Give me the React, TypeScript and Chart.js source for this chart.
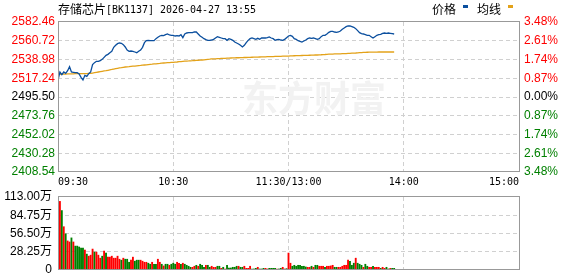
import React, { useEffect, useRef } from 'react';
import { Chart, registerables } from 'chart.js';
Chart.register(...registerables);

const titleText = '存储芯片[BK1137] 2026-04-27 13:55';
const legendNames = ['价格', '均线'];
const timeLabels = ['09:30', '10:30', '11:30/13:00', '14:00', '15:00'];
const timeTickMinutes = [0, 60, 120, 180, 240];
const prevClose = 2495.5;
const priceTicks = [2582.46, 2560.72, 2538.98, 2517.24, 2495.5, 2473.76, 2452.02, 2430.28, 2408.54];
const pctLabels = ['3.48%', '2.61%', '1.74%', '0.87%', '0.00%', '0.87%', '1.74%', '2.61%', '3.48%'];
const volTicks = [0, 28.25, 56.5, 84.75, 113];
const volTickLabels = ['0', '28.25万', '56.50万', '84.75万', '113.00万'];

// price per minute from 09:30 (index 0) to 13:55
const prices = [
  2515.0, 2524.49, 2521.39, 2524.49, 2522.94, 2526.03, 2530.67, 2524.49, 2524.10, 2523.71,
  2523.71, 2522.17, 2518.30, 2515.21, 2520.62, 2519.46, 2522.55, 2524.49, 2532.99, 2535.31,
  2536.85, 2536.85, 2537.63, 2539.17, 2541.49, 2543.81, 2544.97, 2546.90, 2548.45, 2553.09,
  2555.40, 2557.34, 2558.11, 2557.72, 2556.18, 2553.47, 2549.99, 2548.45, 2548.83, 2548.45,
  2547.68, 2546.90, 2548.45, 2549.99, 2553.09, 2558.50, 2560.82, 2561.20, 2560.82, 2560.82,
  2560.82, 2563.13, 2564.68, 2566.23, 2567.00, 2566.61, 2567.77, 2568.55, 2567.39, 2567.00,
  2567.00, 2566.23, 2566.61, 2566.23, 2567.77, 2564.29, 2568.55, 2569.71, 2570.09, 2570.09,
  2570.09, 2570.87, 2570.87, 2568.55, 2566.23, 2564.68, 2563.13, 2561.97, 2561.20, 2561.20,
  2561.59, 2562.36, 2563.91, 2565.45, 2564.68, 2563.91, 2563.13, 2563.13, 2561.20, 2563.13,
  2562.36, 2561.20, 2559.27, 2558.11, 2556.95, 2555.40, 2553.47, 2555.40, 2558.50, 2561.20,
  2563.13, 2563.91, 2563.13, 2562.36, 2563.52, 2562.36, 2563.91, 2563.91, 2563.91, 2564.29,
  2565.07, 2563.91, 2563.13, 2561.20, 2561.97, 2562.36, 2561.59, 2561.20, 2562.36, 2564.29,
  2566.23, 2567.00, 2565.84, 2563.13, 2562.36, 2560.82, 2560.04, 2559.27, 2560.43, 2561.59,
  2563.13, 2563.91, 2563.52, 2563.91, 2563.13, 2562.36, 2563.13, 2565.45, 2567.00, 2567.00,
  2568.55, 2570.48, 2571.64, 2571.64, 2570.87, 2570.48, 2570.87, 2572.02, 2573.96, 2575.50,
  2577.05, 2577.82, 2577.82, 2577.05, 2576.28, 2574.73, 2572.41, 2570.09, 2568.93, 2568.55,
  2567.77, 2567.00, 2567.00, 2565.45, 2563.91, 2565.45, 2567.00, 2567.77, 2568.16, 2569.32,
  2569.71, 2569.32, 2569.71, 2569.32, 2568.93, 2568.55,
];

const avgPrices = [
  2521.8, 2521.9, 2522.0, 2522.1, 2522.1, 2522.2, 2522.3, 2522.3, 2522.4, 2522.5,
  2522.5, 2522.5, 2522.5, 2522.5, 2522.5, 2522.6, 2522.8, 2522.9, 2523.3, 2523.7,
  2524.1, 2524.5, 2524.9, 2525.3, 2525.7, 2526.0, 2526.5, 2527.0, 2527.4, 2527.9,
  2528.4, 2528.8, 2529.2, 2529.5, 2529.9, 2530.3, 2530.5, 2530.7, 2531.0, 2531.2,
  2531.4, 2531.7, 2531.9, 2532.1, 2532.4, 2532.6, 2532.8, 2533.1, 2533.3, 2533.5,
  2533.8, 2534.0, 2534.2, 2534.4, 2534.7, 2534.9, 2535.1, 2535.3, 2535.4, 2535.6,
  2535.7, 2535.9, 2536.1, 2536.4, 2536.6, 2536.8, 2537.0, 2537.2, 2537.3, 2537.5,
  2537.6, 2537.8, 2537.9, 2538.1, 2538.2, 2538.4, 2538.6, 2538.9, 2539.1, 2539.3,
  2539.6, 2539.7, 2539.8, 2539.9, 2540.0, 2540.2, 2540.3, 2540.4, 2540.5, 2540.6,
  2540.7, 2540.8, 2540.9, 2541.0, 2541.0, 2541.1, 2541.2, 2541.3, 2541.3, 2541.4,
  2541.5, 2541.6, 2541.7, 2541.7, 2541.8, 2541.9, 2542.0, 2542.0, 2542.1, 2542.2,
  2542.3, 2542.3, 2542.4, 2542.5, 2542.6, 2542.7, 2542.7, 2542.8, 2542.9, 2543.0,
  2543.0, 2543.1, 2543.2, 2543.3, 2543.4, 2543.4, 2543.5, 2543.6, 2543.7, 2543.8,
  2543.8, 2543.9, 2544.0, 2544.1, 2544.2, 2544.2, 2544.4, 2544.5, 2544.7, 2544.8,
  2545.0, 2545.1, 2545.2, 2545.3, 2545.4, 2545.4, 2545.5, 2545.6, 2545.7, 2545.8,
  2545.8, 2546.0, 2546.1, 2546.3, 2546.4, 2546.5, 2546.7, 2546.9, 2547.0, 2547.2,
  2547.3, 2547.4, 2547.5, 2547.5, 2547.6, 2547.6, 2547.6, 2547.7, 2547.7, 2547.7,
  2547.7, 2547.7, 2547.7, 2547.7, 2547.7, 2547.7,
];

// volume (万) per minute, minutes 1..175
const volumes = [
  106.2, 92.0, 67.0, 56.0, 45.0, 43.4, 49.7, 43.4, 37.0, 37.0,
  35.6, 34.0, 34.0, 30.9, 24.6, 21.4, 23.0, 32.4, 27.7, 27.7,
  23.0, 18.3, 21.4, 29.3, 26.2, 19.9, 19.9, 21.4, 18.3, 18.3,
  21.4, 16.7, 15.2, 18.3, 16.7, 16.7, 12.0, 15.2, 19.9, 13.6,
  15.2, 15.2, 15.2, 13.6, 12.0, 12.0, 10.5, 8.9, 12.0, 8.9,
  8.9, 16.7, 12.0, 8.9, 6.3, 8.9, 8.9, 7.3, 8.9, 10.5,
  8.9, 12.0, 10.5, 8.9, 10.5, 8.9, 7.3, 5.8, 4.2, 4.2,
  5.8, 7.3, 5.8, 8.9, 7.3, 4.2, 7.3, 7.3, 4.2, 5.8,
  4.2, 4.2, 5.8, 5.8, 2.6, 4.2, 1.5, 7.3, 3.1, 3.1,
  4.2, 4.2, 5.8, 5.8, 4.2, 4.2, 5.8, 2.6, 2.6, 5.8,
  1.6, 1.6, 2.6, 4.2, 1.6, 1.6, 2.6, 2.6, 1.6, 2.6,
  2.6, 2.6, 2.6, 1.6, 1.6, 2.6, 4.2, 1.6, 2.1, 26.2,
  10.5, 5.8, 7.3, 5.8, 7.3, 7.3, 5.8, 5.8, 4.7, 4.2,
  4.2, 5.8, 4.2, 7.3, 7.3, 5.8, 5.8, 5.8, 4.2, 5.8,
  5.8, 6.3, 7.3, 4.2, 4.2, 4.2, 4.2, 5.8, 7.3, 7.3,
  15.2, 13.6, 7.3, 10.5, 18.3, 10.5, 8.9, 7.3, 4.2, 8.9,
  5.8, 4.2, 4.2, 5.8, 4.2, 4.2, 4.2, 2.6, 4.2, 2.6,
  4.2, 1.6, 2.6, 2.6, 2.6,
];

// 1 = up (red), 0 = down (green)
const volUp = [
  1, 0, 1, 0, 1, 1, 0, 1, 0, 0,
  0, 0, 0, 1, 0, 1, 1, 1, 0, 1,
  1, 1, 0, 1, 0, 1, 1, 1, 1, 1,
  1, 1, 0, 1, 0, 0, 0, 1, 1, 0,
  0, 0, 1, 1, 1, 1, 0, 0, 1, 0,
  0, 1, 1, 0, 1, 0, 0, 1, 0, 0,
  0, 1, 1, 0, 1, 0, 0, 0, 0, 1,
  1, 0, 1, 0, 0, 0, 1, 0, 0, 1,
  1, 1, 0, 0, 1, 0, 1, 0, 0, 0,
  0, 0, 0, 1, 0, 0, 1, 1, 1, 1,
  0, 0, 0, 1, 0, 0, 0, 1, 1, 0,
  0, 0, 0, 1, 0, 0, 1, 1, 0, 1,
  1, 0, 0, 0, 0, 0, 0, 0, 0, 1,
  1, 0, 1, 0, 0, 1, 1, 1, 0, 1,
  1, 1, 1, 0, 0, 1, 1, 1, 1, 1,
  1, 0, 0, 0, 1, 0, 0, 0, 1, 0,
  0, 1, 1, 0, 1, 1, 1, 0, 1, 1,
  0, 0, 1, 0, 0,
];

const RED = '#ff0000';
const GREEN = '#008000';
const BLACK = '#000000';
const GRID = '#d0d0d0';
const FRAME = '#999999';
const PRICE_COLOR = '#0b4f9e';
const AVG_COLOR = '#e3a21a';
const DASH = [4, 3];
const NUM_FONT = "'Liberation Sans', 'Noto Sans CJK SC', sans-serif";

function colorFor(v: number) {
  if (v > prevClose + 0.005) return RED;
  if (v < prevClose - 0.005) return GREEN;
  return BLACK;
}

const framePlugin = {
  id: 'frame',
  afterDraw(chart: any) {
    const { ctx, chartArea: a } = chart;
    ctx.save();
    ctx.strokeStyle = FRAME;
    ctx.lineWidth = 1;
    ctx.strokeRect(Math.round(a.left) + 0.5, Math.round(a.top) - 0.5, Math.round(a.right - a.left), Math.round(a.bottom - a.top));
    ctx.restore();
  },
};

const headerPlugin = {
  id: 'header',
  afterDraw(chart: any) {
    const { ctx } = chart;
    ctx.save();
    ctx.fillStyle = BLACK;
    ctx.textBaseline = 'alphabetic';
    let x = 58;
    for (const ch of titleText) {
      if (ch.charCodeAt(0) > 255) {
        ctx.font = "12px 'Noto Sans CJK SC'";
        ctx.fillText(ch, x, 14);
        x += 12;
      } else {
        ctx.font = "10px 'DejaVu Sans Mono'";
        ctx.fillText(ch, x, 13);
        x += 6;
      }
    }
    ctx.font = "12px 'Noto Sans CJK SC'";
    ctx.fillText(legendNames[0], 432, 14);
    ctx.fillStyle = PRICE_COLOR;
    ctx.fillRect(463, 5, 5, 3);
    ctx.fillStyle = BLACK;
    ctx.fillText(legendNames[1], 477, 14);
    ctx.fillStyle = AVG_COLOR;
    ctx.fillRect(508, 5, 5, 3);
    ctx.restore();
  },
};

const watermarkPlugin = {
  id: 'watermark',
  beforeDatasetsDraw(chart: any) {
    const { ctx } = chart;
    ctx.save();
    ctx.fillStyle = '#f2f2f2';
    ctx.font = "bold 36px 'Noto Sans CJK SC'";
    ctx.textBaseline = 'alphabetic';
    ctx.fillText('东方财富', 242, 112);
    ctx.restore();
  },
};

export default function App() {
  const topRef = useRef<HTMLCanvasElement>(null);
  const botRef = useRef<HTMLCanvasElement>(null);

  useEffect(() => {
    const xGridColor = (ctx: any) =>
      ctx.tick && (ctx.tick.value === 0 || ctx.tick.value === 240) ? 'rgba(0,0,0,0)' : GRID;

    const top = new Chart(topRef.current as HTMLCanvasElement, {
      type: 'line',
      data: {
        datasets: [
          {
            data: prices.map((y, i) => ({ x: i, y })),
            borderColor: PRICE_COLOR,
            borderWidth: 1.3,
            pointRadius: 0,
            tension: 0,
            yAxisID: 'y',
          },
          {
            data: avgPrices.map((y, i) => ({ x: i, y })),
            borderColor: AVG_COLOR,
            borderWidth: 1.3,
            pointRadius: 0,
            tension: 0,
            yAxisID: 'y',
          },
        ],
      },
      options: {
        responsive: false,
        animation: false,
        devicePixelRatio: 1,
        events: [],
        layout: { padding: { top: 22, left: 0, right: 0, bottom: 0 } },
        plugins: { legend: { display: false }, tooltip: { enabled: false } },
        scales: {
          x: {
            type: 'linear',
            min: 0,
            max: 240,
            afterBuildTicks: (s: any) => {
              s.ticks = timeTickMinutes.map((v) => ({ value: v }));
            },
            afterFit: (s: any) => {
              s.height = 18;
              s.paddingLeft = 0;
              s.paddingRight = 0;
            },
            ticks: {
              align: 'inner',
              autoSkip: false,
              maxRotation: 0,
              minRotation: 0,
              padding: 4,
              color: BLACK,
              font: { family: "'DejaVu Sans Mono'", size: 10 },
              callback: (_v: any, i: number) => timeLabels[i],
            },
            grid: { drawTicks: false, color: xGridColor, lineWidth: 1 },
            border: { display: false, dash: DASH },
          },
          y: {
            position: 'left',
            min: priceTicks[8],
            max: priceTicks[0],
            afterBuildTicks: (s: any) => {
              s.ticks = priceTicks.map((v) => ({ value: v }));
            },
            afterFit: (s: any) => {
              s.width = 58;
              s.paddingTop = 0;
              s.paddingBottom = 0;
            },
            ticks: {
              autoSkip: false,
              padding: 3,
              color: (ctx: any) => colorFor(ctx.tick.value),
              font: { family: NUM_FONT, size: 12 },
              callback: (_v: any, i: number) => priceTicks[i].toFixed(2),
            },
            grid: {
              drawTicks: false,
              color: (ctx: any) =>
                ctx.tick && (ctx.index === 0 || ctx.index === priceTicks.length - 1) ? 'rgba(0,0,0,0)' : GRID,
            },
            border: { display: false, dash: DASH },
          },
          yR: {
            position: 'right',
            min: priceTicks[8],
            max: priceTicks[0],
            afterBuildTicks: (s: any) => {
              s.ticks = priceTicks.map((v) => ({ value: v }));
            },
            afterFit: (s: any) => {
              s.width = 59;
              s.paddingTop = 0;
              s.paddingBottom = 0;
            },
            ticks: {
              autoSkip: false,
              padding: 5,
              color: (ctx: any) => colorFor(ctx.tick.value),
              font: { family: NUM_FONT, size: 12 },
              callback: (_v: any, i: number) => pctLabels[i],
            },
            grid: { display: false, drawTicks: false },
            border: { display: false },
          },
        },
      } as any,
      plugins: [watermarkPlugin, framePlugin, headerPlugin],
    });

    const bot = new Chart(botRef.current as HTMLCanvasElement, {
      type: 'bar',
      data: {
        datasets: [
          {
            data: volumes.map((y, i) => ({ x: i + 1, y })),
            backgroundColor: volUp.map((u) => (u ? RED : GREEN)),
            borderWidth: 0,
            barThickness: 1.2,
            grouped: false,
          } as any,
        ],
      },
      options: {
        responsive: false,
        animation: false,
        devicePixelRatio: 1,
        events: [],
        layout: { padding: { top: 7, left: 0, right: 59, bottom: 0 } },
        plugins: { legend: { display: false }, tooltip: { enabled: false } },
        scales: {
          x: {
            type: 'linear',
            min: 0,
            max: 240,
            offset: false,
            afterBuildTicks: (s: any) => {
              s.ticks = timeTickMinutes.map((v) => ({ value: v }));
            },
            afterFit: (s: any) => {
              s.height = 6;
              s.paddingLeft = 0;
              s.paddingRight = 0;
            },
            ticks: { display: false, autoSkip: false },
            grid: { drawTicks: false, color: xGridColor, offset: false },
            border: { display: false, dash: DASH },
          },
          y: {
            position: 'left',
            min: 0,
            max: 113,
            afterBuildTicks: (s: any) => {
              s.ticks = volTicks.map((v) => ({ value: v }));
            },
            afterFit: (s: any) => {
              s.width = 58;
              s.paddingTop = 0;
              s.paddingBottom = 0;
            },
            ticks: {
              autoSkip: false,
              padding: 6,
              color: BLACK,
              font: { family: NUM_FONT, size: 12 },
              callback: (_v: any, i: number) => volTickLabels[i],
            },
            grid: {
              drawTicks: false,
              color: (ctx: any) =>
                ctx.tick && (ctx.index === 0 || ctx.index === volTicks.length - 1) ? 'rgba(0,0,0,0)' : GRID,
            },
            border: { display: false, dash: DASH },
          },
        },
      } as any,
      plugins: [framePlugin],
    });

    return () => {
      top.destroy();
      bot.destroy();
    };
  }, []);

  return (
    <div style={{ position: 'absolute', left: 0, top: 0, width: 578, height: 276, background: '#ffffff' }}>
      <canvas ref={topRef} width={578} height={190} style={{ position: 'absolute', left: 0, top: 0 }} />
      <canvas ref={botRef} width={578} height={86} style={{ position: 'absolute', left: 0, top: 190 }} />
    </div>
  );
}
